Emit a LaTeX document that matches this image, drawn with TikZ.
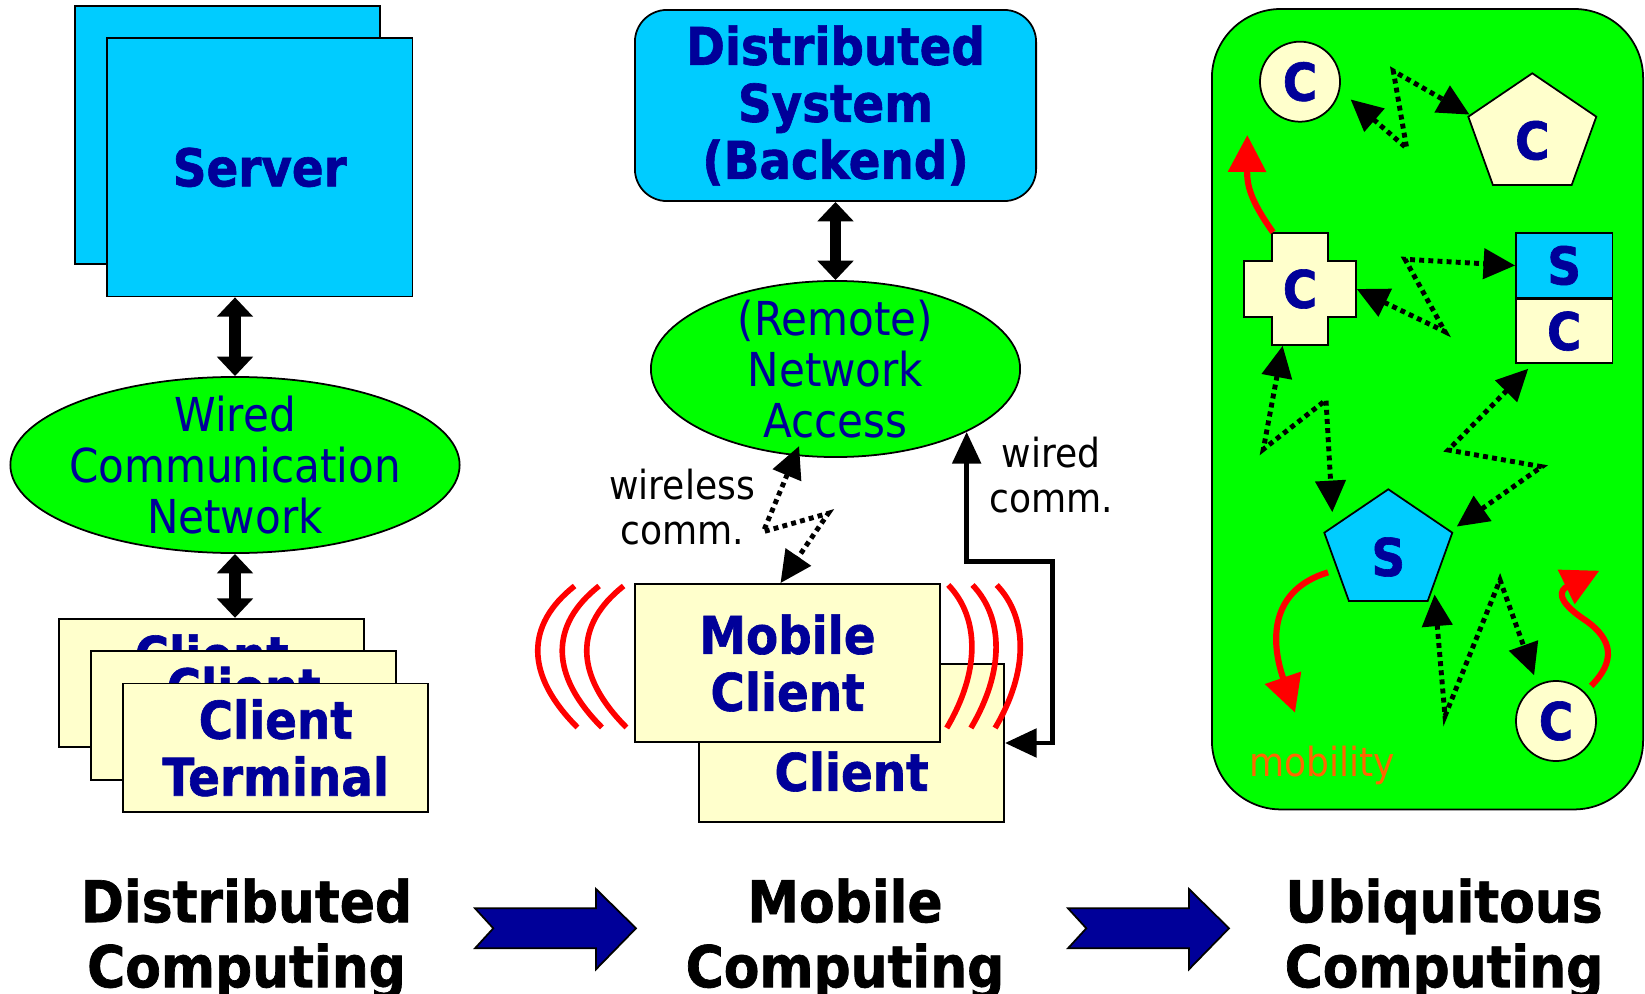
\documentclass[tikz,border=0pt]{standalone}
\usepackage{fontspec}
\setmainfont{DejaVu Sans}[FakeStretch=0.9, BoldFeatures={FakeBold=1.2}]
\usepackage{xcolor}
\usetikzlibrary{shapes.geometric, arrows.meta, calc, positioning}

\definecolor{navy}{RGB}{0,0,153}
\definecolor{skyc}{RGB}{0,204,255}
\definecolor{lgreen}{RGB}{0,255,0}
\definecolor{cream}{RGB}{255,255,204}
\definecolor{orng}{RGB}{255,102,0}

\tikzset{
	boxtxt/.style = {text = navy, font = \fontsize{14.8}{16.2}\selectfont\bfseries, align = center, inner sep = 1pt},
	srvbox/.style = {boxtxt, draw, line width = 0.5pt, fill = skyc, minimum width = 3.05cm, minimum height = 2.58cm},
	clibox/.style = {boxtxt, draw, line width = 0.5pt, fill = cream, minimum width = 3.05cm, minimum height = 1.285cm},
	netell/.style = {ellipse, draw, line width = 0.5pt, fill = lgreen, inner sep = 0pt},
	nettxt/.style = {text = navy, font = \fontsize{13.3}{14.5}\selectfont, align = center},
	ubinode/.style = {boxtxt, draw, line width = 0.5pt, inner sep = 0pt},
	pentnode/.style = {regular polygon, regular polygon sides = 5, minimum size = 1.3cm, inner sep = 0pt},
	bigarr/.style = {line width = 3.4pt, {Triangle[length = 5.5pt, width = 10pt]}-{Triangle[length = 5.5pt, width = 10pt]}},
	wirearr/.style = {line width = 1.4pt, {Triangle[length = 9pt, width = 8pt]}-{Triangle[length = 9pt, width = 8pt]}},
	dotarr/.style = {line width = 1.4pt, dash pattern = on 1.4pt off 1.2pt, {Triangle[length = 9pt, width = 8.5pt]}-{Triangle[length = 9pt, width = 8.5pt]}},
	redarr/.style = {red, line width = 1.75pt, -{Triangle[length = 10.5pt, width = 10.5pt]}},
	wave/.style = {red, line width = 1.6pt},
	lbl/.style = {font = \fontsize{11.4}{12.8}\selectfont, align = center},
	bottomlbl/.style = {font = \fontsize{16.4}{18.5}\selectfont\bfseries, align = center}
}

\begin{document}
\begin{tikzpicture}[x = 0.01cm, y = -0.01cm]
	\useasboundingbox (0,0) rectangle (1645,994);
	\def\lstep{24.5};
	\def\rstep{24.2};
	\def\narr{593};

	% distributed
	\node[srvbox] (serverback) at (227.7,135.3) {};
	\node[srvbox] (server) at (259.8,167.4) {Server};
	\node[netell, minimum width = 4.49cm, minimum height = 1.76cm,
		label = {[nettxt]center:{Wired\\Communication\\Network}}] (wirednet) at (235,465) {};
	\foreach \i in {0,1,2}
		\node[clibox] (client\i) at ({211.7+32*\i},{683+32.4*\i}) {Client\\Terminal};

	\draw[bigarr] (wirednet.north |- server.south) -- (wirednet.north);
	\draw[bigarr] (wirednet.south) -- (wirednet.south |- client0.north);

	% mobile
	\node[srvbox, rounded corners = 0.32cm, minimum width = 4.01cm, minimum height = 1.91cm] (backend) at (835.5,105.5) {Distributed\\System\\(Backend)};
	\node[netell, minimum width = 3.69cm, minimum height = 1.76cm,
		label = {[nettxt]center:{(Remote)\\Network\\Access}}] (remote) at (835.5,369) {};
	\node[clibox, minimum height = 1.58cm] (mobileback) at (851.5,743) {Mobile\\Client};
	\node[clibox, minimum height = 1.58cm] (mobile) at (787.5,663) {Mobile\\Client};

	\draw[bigarr] (backend.south) -- (remote.north);

	\foreach \k in {0,1,2} {
		\draw[wave] ({574.6+\lstep*\k},586) .. controls ({525+\lstep*\k},625) and ({525+\lstep*\k},675) .. ({577.4+\lstep*\k},727.4);
		\draw[wave] ({948.3+\rstep*\k},585) .. controls ({980+\rstep*\k},618) and ({980+\rstep*\k},672) .. ({946.7+\rstep*\k},728);
	}

	\draw[dotarr, shorten <= -3pt] (remote.-115) -- (763.3,531.7) -- (828.3,513.3) -- ([xshift = -0.07cm]mobile.north);
	\draw[wirearr] (mobileback.east) -| (1052.7,561.7) -| (remote.south east);

	\node[lbl] (wless) at (682,507) {wireless\\comm.};
	\node[lbl] (wired) at (1051,475) {wired\\comm.};

	% ubiquitous
	\node[draw, line width = 0.5pt, fill = lgreen, rounded corners = 0.69cm, minimum width = 4.31cm, minimum height = 8cm] (ubi) at (1427.5,409.2) {};

	\foreach \px/\py/\pc in {1532.3/135/cream, 1388.3/551/skyc}
		\filldraw[fill = \pc, line width = 0.5pt, shift = {(\px,\py)}] (0,-61.7) -- (64,-18.3) -- (39.4,50) -- (-39.4,50) -- (-64,-18.3) -- cycle;

	\node[ubinode, circle, fill = cream, minimum size = 0.8cm] (cA) at (1300,81.7) {C};
	\node[pentnode, label = {[boxtxt, yshift = -0.055cm]center:C}] (pA) at (1532.3,135) {};
	\filldraw[fill = cream, line width = 0.5pt] (1272,233) -- (1328,233) -- (1328,261) -- (1356,261) -- (1356,317) -- (1328,317)
		-- (1328,345) -- (1272,345) -- (1272,317) -- (1244,317) -- (1244,261) -- (1272,261) -- cycle;
	\node[boxtxt, minimum size = 1.12cm, inner sep = 0pt] (crossC) at (1300,289) {C};
	\node[ubinode, fill = skyc, minimum width = 0.963cm, minimum height = 0.644cm] (boxS) at (1564.2,265.5) {S};
	\node[ubinode, fill = cream, minimum width = 0.963cm, minimum height = 0.633cm, below = 0pt of boxS] (boxC) {C};
	\node[pentnode, label = {[boxtxt, yshift = -0.06cm]center:S}] (pS) at (1388.3,551) {};
	\node[ubinode, circle, fill = cream, minimum size = 0.8cm] (cB) at (1556,721) {C};
	\node[lbl, text = orng] (mob) at (1322,765) {mobility};

	\draw[dotarr, shorten <= 4pt] (cA.-12) -- (1406.7,148.3) -- (1393.3,71) -- (pA.corner 2);
	\draw[dotarr] (crossC.east) -- (1445,331.7) -- (1405,259.3) -- (boxS.west);
	\draw[dotarr, shorten >= 3.7pt] (crossC.-107) -- (1263.3,449.3) -- (1326,400) -- (pS.155);
	\draw[dotarr, shorten <= 2pt, shorten >= 2pt] ([xshift = -0.31cm]boxC.south) -- (1448.3,450) -- (1541.7,466.7) -- (pS.corner 5);
	\draw[dotarr, shorten <= 3pt, shorten >= 2.8pt] (pS.-36) -- (1445,716) -- (1500,580) -- (cB.117);

	\coordinate (mv1) at (1247.3,135);
	\coordinate (mv2) at (1295,712.7);
	\coordinate (mv3) at (1599.3,570.7);
	\draw[redarr] ([xshift = -0.27cm]crossC.north) .. controls (1250,200) and (1247,185) .. (mv1);
	\draw[redarr, shorten <= 3pt] (pS.200) .. controls (1270,590) and (1270,640) .. (mv2);
	\draw[redarr, shorten <= 2.5pt] (cB.45) .. controls (1615,662) and (1614,640) .. (1585,620) .. controls (1555,600) and (1560,590) .. (mv3);

	% bottom row
	\node[bottomlbl] (distcomp) at (246.5,939) {Distributed\\Computing};
	\node[bottomlbl] (mobcomp) at (845,939) {Mobile\\Computing};
	\node[bottomlbl] (ubicomp) at (1444,939) {Ubiquitous\\Computing};
	\foreach \ax in {0,\narr}
		\filldraw[fill = navy, line width = 0.5pt] ({475+\ax},908.3) -- ({596+\ax},908.3) -- ({596+\ax},889) -- ({636+\ax},928.3)
			-- ({596+\ax},969.3) -- ({596+\ax},948.3) -- ({475+\ax},948.3) -- ({493.3+\ax},928.3) -- cycle;
\end{tikzpicture}
\end{document}
